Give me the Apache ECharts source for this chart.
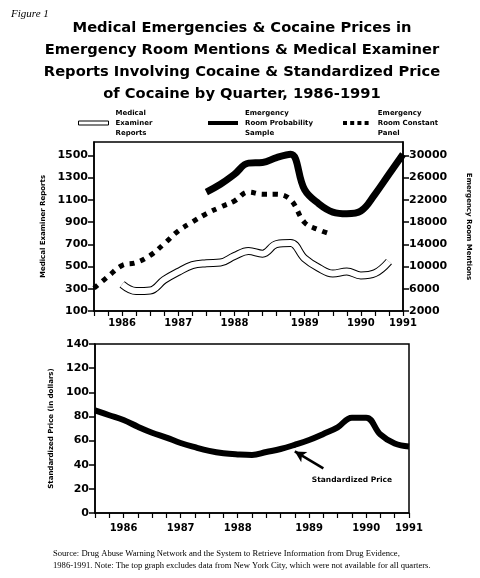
<!DOCTYPE html>
<html>
<head>
<meta charset="utf-8">
<script src="https://cdn.jsdelivr.net/npm/echarts@6/dist/echarts.min.js"></script>
<style>html,body{margin:0;padding:0;background:#fff;}#c{width:480px;height:578px;}</style>
</head>
<body>
<div id="c"></div>
<script>
// Quarters (tick positions) from 1985 Q3 to 1991 Q1
const quarters = ['1985 Q3','1985 Q4','1986 Q1','1986 Q2','1986 Q3','1986 Q4','1987 Q1','1987 Q2','1987 Q3','1987 Q4',
  '1988 Q1','1988 Q2','1988 Q3','1988 Q4','1989 Q1','1989 Q2','1989 Q3','1989 Q4','1990 Q1','1990 Q2','1990 Q3','1990 Q4','1991 Q1'];
const yearTickLabels = ['', '', '1986', '', '', '', '1987', '', '', '', '1988', '', '', '', '', '1989', '', '', '', '1990', '', '', '1991'];

// Left axis (Medical Examiner Reports)
const medicalExaminer = [null, null, 340, 280, 285, 380, 452, 512, 530, 536, 595, 640, 616, 702, 711, 572, 488, 437, 455, 420, 440, 545, null];
// Right axis (Emergency Room Mentions)
const erProbability = [null, null, null, null, null, null, null, null, 23400, 24800, 26600, 28600, 28700, 29600, 30200, 23800, 21300, 19800, 19500, 20000, 23000, 26600, 30200];
const erConstant = [6100, 8200, 10200, 10700, 12000, 14100, 16400, 18000, 19500, 20700, 21800, 23400, 23000, 23000, 22000, 17900, 16600, 15700, null, null, null, null, null];
// Lower chart: standardized price (dollars)
const standardizedPrice = [85, 81, 77, 71.5, 66.5, 62.5, 58, 54.5, 51.5, 49.5, 48.5, 48, 50.5, 53, 56.5, 60.5, 65.5, 71, 79, 79, 65, 57.5, 55];

const BOLD = '"DejaVu Sans", sans-serif';
const chart = echarts.init(document.getElementById('c'), null, {renderer: 'canvas'});

const xAxisBase = (gridIndex, margin) => ({
  type: 'category', gridIndex, data: quarters, boundaryGap: false,
  axisLine: {lineStyle: {color: '#000', width: 1.5}},
  axisTick: {show: true, interval: 0, length: 5, lineStyle: {color: '#000', width: 1.2}},
  axisLabel: {interval: 0, margin, color: '#000', fontFamily: BOLD, fontWeight: 'bold', fontSize: 10,
    formatter: (v, i) => yearTickLabels[i]},
  splitLine: {show: false}
});
const plain = v => String(v);

const option = {
  backgroundColor: '#fff',
  animation: false,
  title: [
    {text: 'Figure 1', left: 6, top: 4, textStyle: {fontFamily: '"Liberation Serif", serif', fontStyle: 'italic', fontWeight: 'normal', fontSize: 11, color: '#000'}},
    {text: 'Medical Emergencies & Cocaine Prices in\nEmergency Room Mentions & Medical Examiner\nReports Involving Cocaine & Standardized Price\nof Cocaine by Quarter, 1986-1991',
      left: 237, top: 12, textAlign: 'center',
      textStyle: {fontFamily: BOLD, fontWeight: 'bold', fontSize: 14.7, lineHeight: 22, color: '#000'}},
    {text: 'Source: Drug Abuse Warning Network and the System to Retrieve Information from Drug Evidence,\n1986-1991. Note: The top graph excludes data from New York City, which were not available for all quarters.',
      left: 48, top: 542, textStyle: {fontFamily: '"Liberation Serif", serif', fontWeight: 'normal', fontSize: 8.6, lineHeight: 12.5, color: '#000'}}
  ],
  legend: [
    {left: 73, top: 103, itemWidth: 30, itemHeight: 4, selectedMode: false,
      data: [{name: 'Medical Examiner Reports', icon: 'rect', itemStyle: {color: '#fff', borderColor: '#000', borderWidth: 1}}],
      formatter: () => 'Medical\nExaminer\nReports',
      textStyle: {fontFamily: BOLD, fontWeight: 'bold', fontSize: 7, lineHeight: 10, color: '#000', padding: [0, 0, 0, 2]}},
    {left: 203, top: 103, itemWidth: 30, itemHeight: 4, selectedMode: false,
      data: [{name: 'Emergency Room Probability Sample', icon: 'rect', itemStyle: {color: '#000'}}],
      formatter: () => 'Emergency\nRoom Probability\nSample',
      textStyle: {fontFamily: BOLD, fontWeight: 'bold', fontSize: 7, lineHeight: 10, color: '#000', padding: [0, 0, 0, 2]}},
    {left: 338, top: 103, itemWidth: 32, itemHeight: 4, selectedMode: false,
      data: [{name: 'Emergency Room Constant Panel',
        icon: 'path://M0,0h5v5h-5z M9,0h5v5h-5z M18,0h5v5h-5z M27,0h5v5h-5z',
        itemStyle: {color: '#000'}}],
      formatter: () => 'Emergency\nRoom Constant\nPanel',
      textStyle: {fontFamily: BOLD, fontWeight: 'bold', fontSize: 7, lineHeight: 10, color: '#000', padding: [0, 0, 0, 1]}}
  ],
  grid: [
    {left: 94, right: 73, top: 142, height: 169, show: true, borderColor: '#000', borderWidth: 1.5, backgroundColor: 'transparent'},
    {left: 95, right: 71, top: 344, height: 169, show: true, borderColor: '#000', borderWidth: 1.5, backgroundColor: 'transparent'}
  ],
  xAxis: [xAxisBase(0, 7), xAxisBase(1, 10)],
  yAxis: [
    {type: 'value', gridIndex: 0, min: 100, max: 1620, interval: 200,
      name: 'Medical Examiner Reports', nameLocation: 'middle', nameRotate: 90, nameGap: 38,
      nameTextStyle: {fontFamily: BOLD, fontWeight: 'bold', fontSize: 7, color: '#000'},
      axisLine: {show: true, lineStyle: {color: '#000', width: 1.5}},
      axisTick: {show: true, length: 6, lineStyle: {color: '#000', width: 1.5}},
      axisLabel: {showMaxLabel: false, formatter: plain, color: '#000', fontFamily: BOLD, fontWeight: 'bold', fontSize: 11, margin: 6},
      splitLine: {show: false}},
    {type: 'value', gridIndex: 0, min: 2000, max: 32400, interval: 4000, position: 'right',
      name: 'Emergency Room Mentions', nameLocation: 'middle', nameRotate: -90, nameGap: 62,
      nameTextStyle: {fontFamily: BOLD, fontWeight: 'bold', fontSize: 7, color: '#000'},
      axisLine: {show: true, lineStyle: {color: '#000', width: 1.5}},
      axisTick: {show: true, length: 6, lineStyle: {color: '#000', width: 1.5}},
      axisLabel: {showMaxLabel: false, formatter: plain, color: '#000', fontFamily: BOLD, fontWeight: 'bold', fontSize: 11, margin: 6},
      splitLine: {show: false}},
    {type: 'value', gridIndex: 1, min: 0, max: 140, interval: 20,
      name: 'Standardized Price (in dollars)', nameLocation: 'middle', nameRotate: 90, nameGap: 40,
      nameTextStyle: {fontFamily: BOLD, fontWeight: 'bold', fontSize: 7, color: '#000'},
      axisLine: {show: true, lineStyle: {color: '#000', width: 1.5}},
      axisTick: {show: true, length: 6, lineStyle: {color: '#000', width: 1.5}},
      axisLabel: {formatter: plain, color: '#000', fontFamily: BOLD, fontWeight: 'bold', fontSize: 11, margin: 6},
      splitLine: {show: false}}
  ],
  series: [
    {name: 'Medical Examiner Reports', type: 'line', xAxisIndex: 0, yAxisIndex: 0, data: medicalExaminer,
      smooth: 0.4, symbol: 'none', connectNulls: false, z: 2,
      lineStyle: {color: '#000', width: 8, cap: 'butt'}, itemStyle: {color: '#000'}},
    {name: 'ME band interior', type: 'line', xAxisIndex: 0, yAxisIndex: 0, data: medicalExaminer,
      smooth: 0.4, symbol: 'none', z: 3, silent: true,
      lineStyle: {color: '#fff', width: 6, cap: 'butt'}, itemStyle: {color: '#fff'}},
    {name: 'Emergency Room Probability Sample', type: 'line', xAxisIndex: 0, yAxisIndex: 1, data: erProbability,
      smooth: 0.4, symbol: 'none', z: 4,
      lineStyle: {color: '#000', width: 7, cap: 'butt'}, itemStyle: {color: '#000'}},
    {name: 'Emergency Room Constant Panel', type: 'line', xAxisIndex: 0, yAxisIndex: 1, data: erConstant,
      smooth: 0.4, symbol: 'none', z: 4,
      lineStyle: {color: '#000', width: 5, type: [5, 6], cap: 'butt'}, itemStyle: {color: '#000'}},
    {name: 'Standardized Price', type: 'line', xAxisIndex: 1, yAxisIndex: 2, data: standardizedPrice,
      smooth: 0.4, symbol: 'none', z: 4,
      lineStyle: {color: '#000', width: 6, cap: 'butt'}, itemStyle: {color: '#000'},
      markLine: {silent: true, symbol: ['none', 'arrow'], symbolSize: [9, 11], label: {show: false},
        lineStyle: {color: '#000', width: 2.5, type: 'solid'},
        data: [[{coord: ['1989 Q3', 37]}, {coord: ['1989 Q1', 51]}]]},
      markPoint: {silent: true, symbol: 'circle', symbolSize: 0,
        label: {show: true, formatter: 'Standardized Price', color: '#000', fontFamily: BOLD, fontWeight: 'bold', fontSize: 7.5, position: 'inside'},
        data: [{coord: ['1990 Q1', 27]}]}}
  ]
};
chart.setOption(option);
</script>
</body>
</html>
